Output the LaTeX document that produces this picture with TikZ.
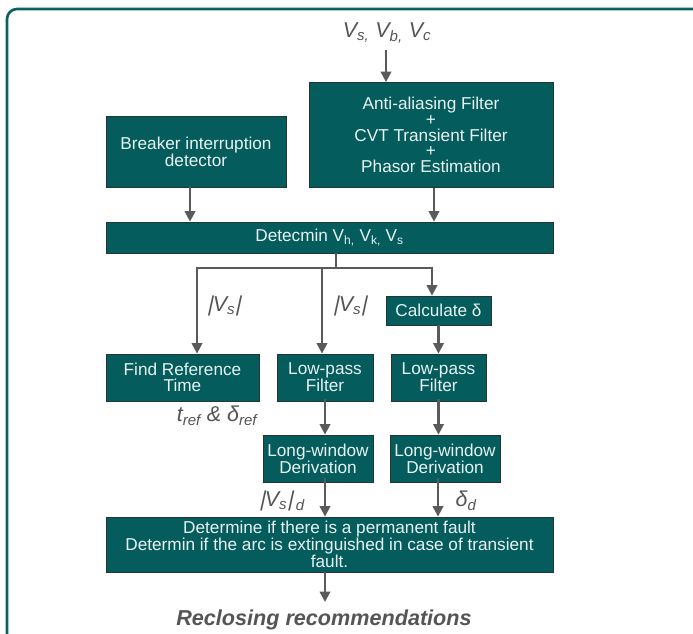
\documentclass[tikz,border=0pt]{standalone}
\usepackage{fontspec}
\setmainfont{Liberation Sans}
\newfontfamily\barfont[FakeSlant=0.22]{Liberation Sans}
\usetikzlibrary{arrows.meta}
\definecolor{teal1}{HTML}{045C5C}
\definecolor{frame1}{HTML}{0B6262}
\definecolor{boxline}{HTML}{233535}
\definecolor{boxtext}{HTML}{E8F2F2}
\definecolor{arrowc}{HTML}{5A5A5A}
\definecolor{labelc}{HTML}{555555}
\newcommand{\vbar}{{\barfont\upshape|}}
\tikzset{
  box/.style={draw=boxline, line width=0.8pt, fill=teal1, text=boxtext, align=center,
    inner sep=0pt, font=\fontsize{17.2}{15.8}\selectfont},
  arr/.style={draw=arrowc, line width=2.2pt, -{Triangle[length=10.5pt,width=10.5pt]}},
  ln/.style={draw=arrowc, line width=2.2pt},
  lbl/.style={text=labelc, font=\fontsize{21.5}{23}\selectfont\itshape, inner sep=0pt},
}
\begin{document}
\begin{tikzpicture}[x=1pt,y=-1pt]
\useasboundingbox (0,0) rectangle (693,634);
\fill[white] (0,0) rectangle (693,634);
\draw[frame1, line width=2.6pt, rounded corners=10pt] (7,660) -- (7,9) -- (720,9);

\node[box, minimum width=244pt, minimum height=105pt] (aa) at (431,135)
  {Anti-aliasing Filter\\+\\CVT Transient Filter\\+\\Phasor Estimation};
\node[box, minimum width=180pt, minimum height=71pt] (brk) at (196,151.5)
  {Breaker interruption\\detector};
\node[box, minimum width=447pt, minimum height=31pt] (det) at (329.5,237.5)
  {\raisebox{-2pt}{Detecmin V\textsubscript{h,} V\textsubscript{k,} V\textsubscript{s}}};
\node[box, minimum width=105pt, minimum height=29pt] (calc) at (438.5,310.5)
  {Calculate δ};
\node[box, minimum width=153pt, minimum height=47pt] (find) at (182.5,377.5)
  {Find Reference\\Time};
\node[box, minimum width=96pt, minimum height=47pt] (lp1) at (325,377.5)
  {Low-pass\\Filter};
\node[box, minimum width=95pt, minimum height=47pt] (lp2) at (438.5,377.5)
  {Low-pass\\Filter};
\node[box, minimum width=110pt, minimum height=47pt] (lw1) at (318,458.5)
  {Long-window\\Derivation};
\node[box, minimum width=110pt, minimum height=47pt] (lw2) at (445,458.5)
  {Long-window\\Derivation};
\node[box, minimum width=447pt, minimum height=55pt] (dtm) at (329.5,544.5)
  {Determine if there is a permanent fault\\Determin if the arc is extinguished in case of transient\\fault.};

\node[lbl] (vin) at (387,33) {V\textsubscript{s,} V\textsubscript{b,} V\textsubscript{c}};
\node[lbl] (vs1) at (224,306) {\vbar V\textsubscript{s}\vbar};
\node[lbl] (vs2) at (350,306) {\vbar V\textsubscript{s}\vbar};
\node[lbl] (tref) at (217,416) {t\textsubscript{ref} \& δ\textsubscript{ref}};
\node[lbl] (vsd) at (282,501) {\vbar V\textsubscript{s}\vbar\kern3pt\textsubscript{d}};
\node[lbl] (dd) at (466,501) {δ\textsubscript{d}};
\node[text=labelc, font=\fontsize{21.6}{24}\selectfont\bfseries\itshape, inner sep=0pt] (out) at (324,620) {Reclosing recommendations};

\coordinate (top) at (386,50);
\coordinate (split) at (336,268);
\coordinate (outtip) at (325,602);

\draw[arr] (top) -- (top |- aa.north);
\draw[arr] ([xshift=-6pt]brk.south) -- ([xshift=-6pt]brk.south |- det.north);
\draw[arr] ([xshift=3pt]aa.south) -- ([xshift=3pt]aa.south |- det.north);
\draw[ln] (det.south -| split) -- (split);
\draw[arr] (split) -| ([xshift=-6.5pt]calc.north);
\draw[arr] (split) -| ([xshift=14.5pt]find.north);
\draw[arr] (split -| lp1.north) ++(-3,0) -- ([xshift=-3pt]lp1.north);
\draw[arr] ([yshift=2pt]lp1.south) -- (lp1.south |- lw1.north);
\draw[arr] (calc.south) -- (lp2.north);
\draw[arr] ([yshift=2pt]lp2.south) -- (lp2.south |- lw2.north);
\draw[arr] ([xshift=7pt,yshift=4pt]lw1.south) -- ([xshift=7pt]lw1.south |- dtm.north);
\draw[arr] ([xshift=-7pt,yshift=4pt]lw2.south) -- ([xshift=-7pt]lw2.south |- dtm.north);
\draw[arr] (dtm.south -| outtip) -- (outtip);
\end{tikzpicture}
\end{document}
